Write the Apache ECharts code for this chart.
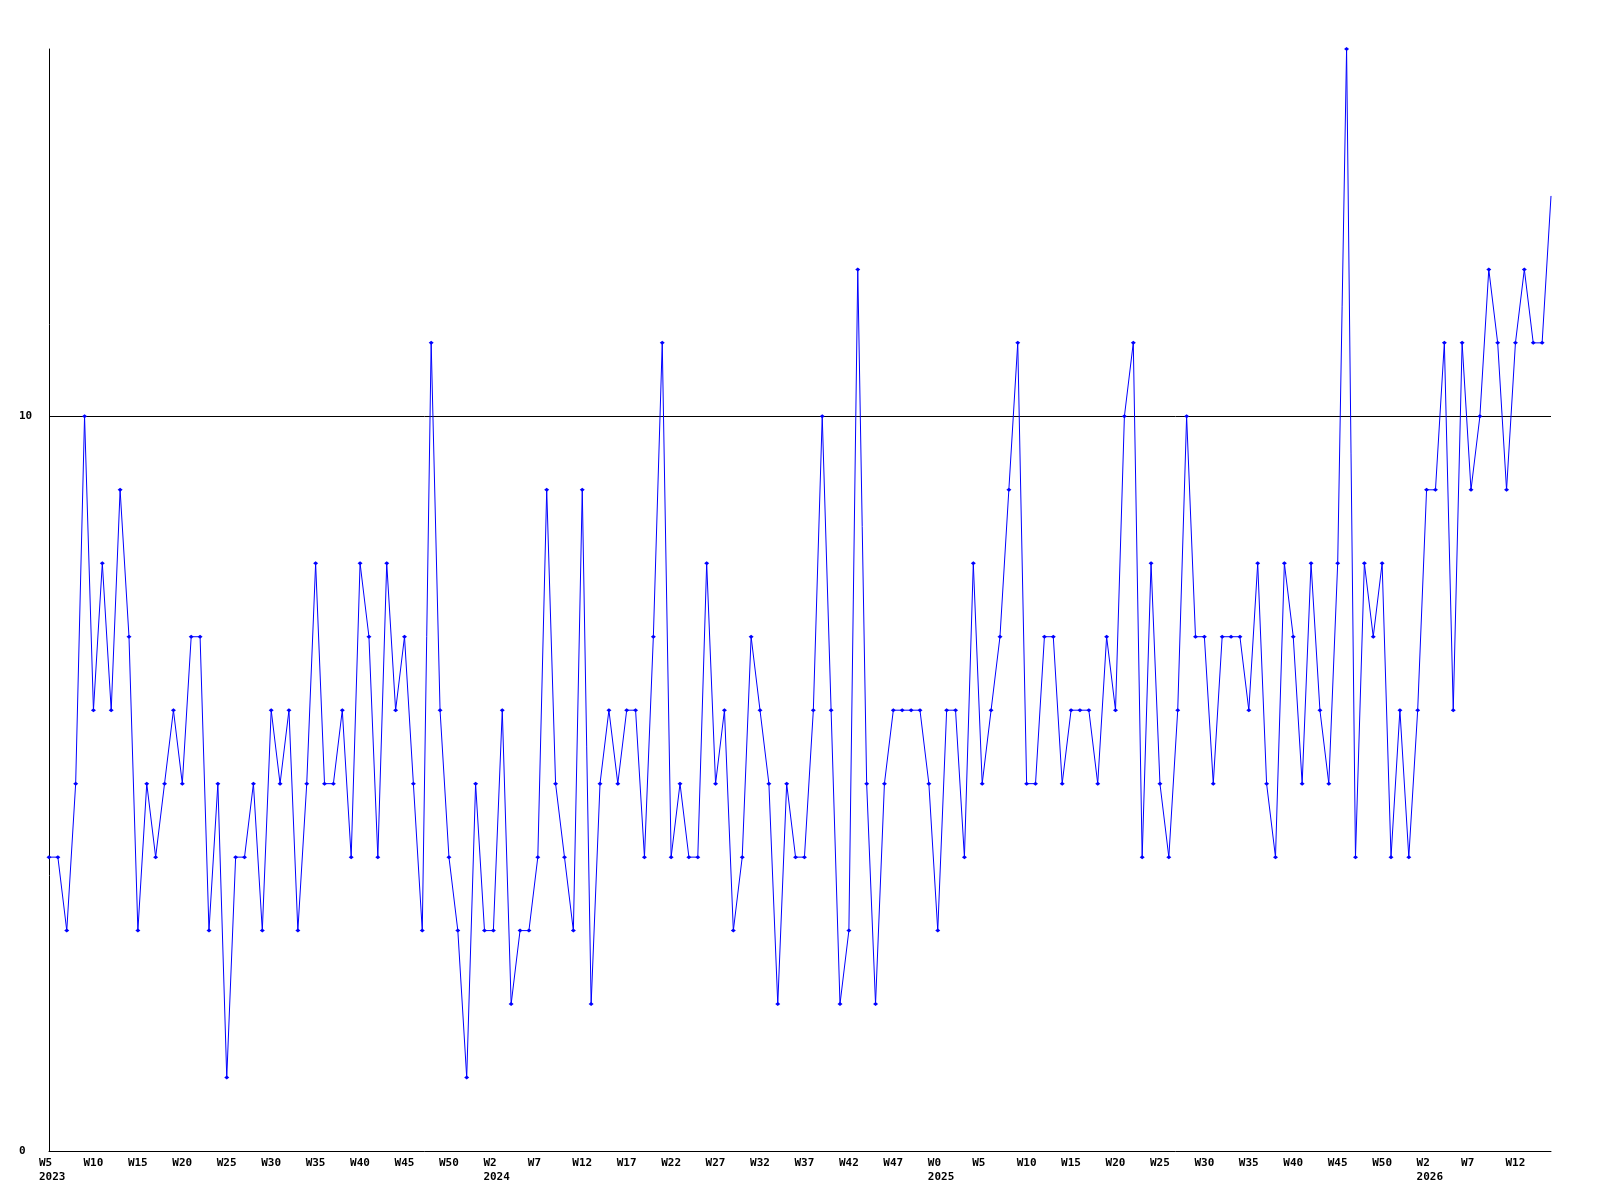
<!DOCTYPE html>
<html>
<head>
<meta charset="utf-8">
<script src="https://cdn.jsdelivr.net/npm/echarts@6/dist/echarts.min.js"></script>
<style>
  html, body { margin: 0; padding: 0; background: #ffffff; }
  #chart { width: 1600px; height: 1200px; }
</style>
</head>
<body>
<div id="chart"></div>
<script>
// Week ranges per year (week numbers as printed on the axis)
const yearWeeks = [
  { year: 2023, first: 5, last: 52 },
  { year: 2024, first: 0, last: 51 },
  { year: 2025, first: 0, last: 52 },
  { year: 2026, first: 0, last: 16 }
];

// Weekly values
const values = [
  4, 4, 3, 5, 10, 6, 8, 6, 9, 7,
  3, 5, 4, 5, 6, 5, 7, 7, 3, 5,
  1, 4, 4, 5, 3, 6, 5, 6, 3, 5,
  8, 5, 5, 6, 4, 8, 7, 4, 8, 6,
  7, 5, 3, 11, 6, 4, 3, 1, 5, 3,
  3, 6, 2, 3, 3, 4, 9, 5, 4, 3,
  9, 2, 5, 6, 5, 6, 6, 4, 7, 11,
  4, 5, 4, 4, 8, 5, 6, 3, 4, 7,
  6, 5, 2, 5, 4, 4, 6, 10, 6, 2,
  3, 12, 5, 2, 5, 6, 6, 6, 6, 5,
  3, 6, 6, 4, 8, 5, 6, 7, 9, 11,
  5, 5, 7, 7, 5, 6, 6, 6, 5, 7,
  6, 10, 11, 4, 8, 5, 4, 6, 10, 7,
  7, 5, 7, 7, 7, 6, 8, 5, 4, 8,
  7, 5, 8, 6, 5, 8, 15, 4, 8, 7,
  8, 4, 6, 4, 6, 9, 9, 11, 6, 11,
  9, 10, 12, 11, 9, 11, 12, 11, 11, 13
];

const yTicks = { min: 0, max: 15, interval: 10 };
const referenceLine = 10;

const categories = [];
yearWeeks.forEach(function (y) {
  for (let w = y.first; w <= y.last; w++) categories.push(y.year + '-W' + w);
});

const FONT = '"DejaVu Sans Mono", "Liberation Mono", monospace';

const chart = echarts.init(document.getElementById('chart'), null, { renderer: 'canvas' });
chart.setOption({
  animation: false,
  backgroundColor: '#ffffff',
  grid: { left: 49, right: 49, top: 49, bottom: 49, containLabel: false },
  xAxis: {
    type: 'category',
    data: categories,
    boundaryGap: false,
    axisLine: { show: true, lineStyle: { color: '#000000', width: 1 } },
    axisTick: { show: false },
    splitLine: { show: false },
    axisLabel: {
      interval: 4,
      margin: 5,
      align: 'center',
      formatter: function (val, idx) {
        const parts = val.split('-');
        let s = '{w|' + parts[1] + '}';
        const prev = idx >= 5 ? categories[idx - 5].split('-')[0] : null;
        if (prev !== parts[0]) s += '\n{w|' + parts[0] + '}';
        return s;
      },
      rich: {
        w: {
          width: 20,
          align: 'left',
          fontFamily: FONT,
          fontSize: 11,
          fontWeight: 'bold',
          color: '#000000',
          lineHeight: 14
        }
      }
    }
  },
  yAxis: {
    type: 'value',
    min: yTicks.min,
    max: yTicks.max,
    interval: yTicks.interval,
    axisLine: { show: true, lineStyle: { color: '#000000', width: 1 } },
    axisTick: { show: false },
    splitLine: { show: false },
    axisLabel: {
      showMaxLabel: false,
      align: 'left',
      margin: 30,
      fontFamily: FONT,
      fontSize: 11,
      fontWeight: 'bold',
      color: '#000000'
    }
  },
  series: [{
    type: 'line',
    data: values,
    showAllSymbol: true,
    symbol: function (v, params) {
      return params.dataIndex === values.length - 1 ? 'none' : 'diamond';
    },
    symbolSize: [5, 4],
    itemStyle: { color: '#0000ff' },
    lineStyle: { color: '#0000ff', width: 1 },
    markLine: {
      silent: true,
      z: 1,
      symbol: ['none', 'none'],
      label: { show: false },
      lineStyle: { color: '#000000', width: 1, type: 'solid' },
      data: [{ yAxis: referenceLine }]
    }
  }]
});
</script>
</body>
</html>
